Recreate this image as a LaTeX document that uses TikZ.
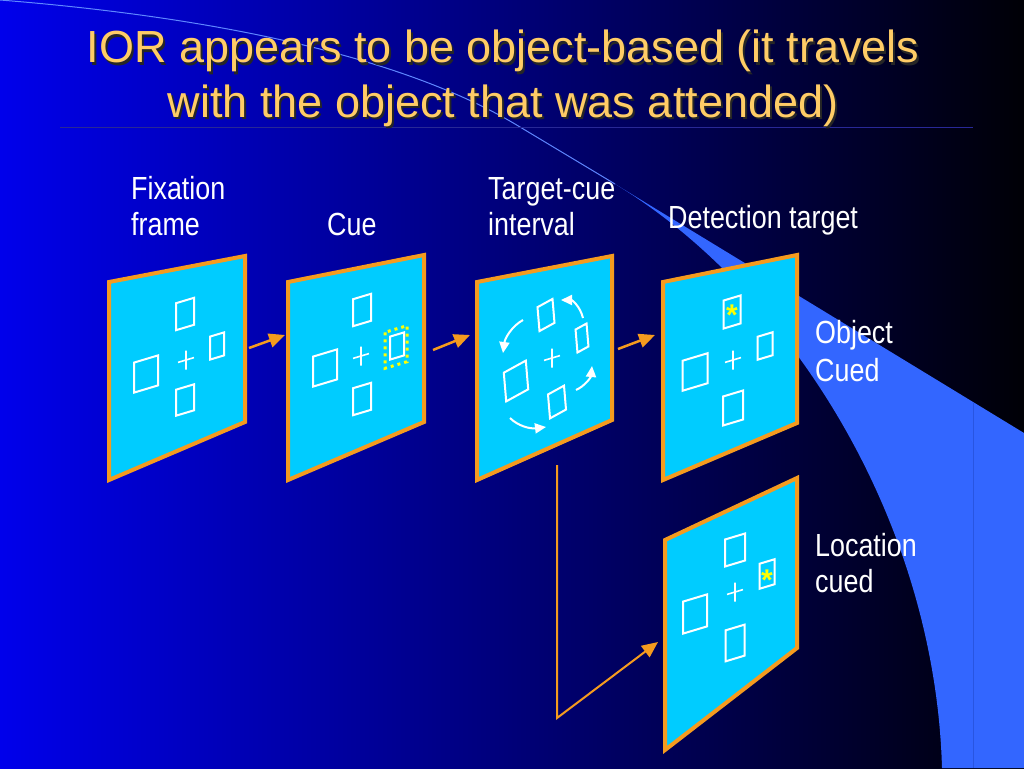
\documentclass[tikz,border=0pt]{standalone}
\usepackage{fontspec}
\setmainfont{Liberation Sans}
\newfontfamily\narrowfont[FakeStretch=0.84]{Liberation Sans}
\usetikzlibrary{arrows.meta}

\definecolor{bgleft}{RGB}{0,0,235}
\definecolor{bgmid}{RGB}{0,0,140}
\definecolor{bgright}{RGB}{0,0,6}
\definecolor{swoosh}{RGB}{51,102,255}
\definecolor{swline}{RGB}{95,135,255}
\definecolor{swedge}{RGB}{40,85,225}
\definecolor{rulecol}{RGB}{40,40,150}
\definecolor{titlecol}{RGB}{255,204,102}
\definecolor{panelfill}{RGB}{0,204,255}
\definecolor{panelrim}{RGB}{245,155,30}
\definecolor{cueyellow}{RGB}{255,255,0}

% 屏幕上的小方框：[变形]{中心x}{中心y}{宽}{高}
\newcommand{\kuang}[5][yslant=0.3]{\draw[box,shift={(#2,#3)},#1] (-#4/2,-#5/2) rectangle (#4/2,#5/2);}
% 注视点十字
\newcommand{\shizi}[2]{\draw[box,line width=1.6pt,shift={(#1,#2)},yslant=0.3] (-8,0) -- (8,0) (0,-9.5) -- (0,9.5);}

\begin{document}
\begin{tikzpicture}[x=1pt, y=-1pt,
  panel/.style={fill=panelfill, draw=panelrim, line width=4pt, line join=miter},
  box/.style={draw=white, line width=2pt},
  lbl/.style={text=white, font=\narrowfont\fontsize{32}{32}\selectfont, inner sep=0pt, anchor=base west},
  titletext/.style={font=\fontsize{45}{45}\selectfont, inner sep=0pt, anchor=base},
  xing/.style={text=cueyellow, font=\fontsize{30}{30}\selectfont\bfseries, inner sep=0pt, anchor=base},
  jiantou/.style={draw=panelrim, line width=2.5pt, -{Triangle[length=16pt,width=14pt]}},
  xuanzhuan/.style={draw=white, line width=2pt, -{Triangle[length=11pt,width=10pt]}}]

  % 背景：从蓝到黑的渐变
  \useasboundingbox (0,0) rectangle (1024,768);
  \shade[left color=bgleft, middle color=bgmid, right color=bgright] (0,0) rectangle (1024,768);

  % 右侧的浅蓝色弧带
  \fill[swoosh] (615,184) -- (1024,433) -- (1024,768) -- (942,768)
      .. controls (935,520) and (790,290) .. (615,184) -- cycle;
  \draw[swedge, line width=1pt] (973,402) -- (973,768);
  \draw[swline, line width=1pt] (0,0) .. controls (250,20) and (420,66) .. (520,127) -- (615,184);
  \draw[rulecol, line width=0.8pt] (60,127) -- (973,127);

  % 标题（带阴影）
  \node[titletext, text=black!85] (title1sh) at (505,65) {IOR appears to be object-based (it travels};
  \node[titletext, text=black!85] (title2sh) at (505,119) {with the object that was attended)};
  \node[titletext, text=titlecol] (title1) at (503,63) {IOR appears to be object-based (it travels};
  \node[titletext, text=titlecol] (title2) at (503,117) {with the object that was attended)};

  % 各阶段说明
  \node[lbl] (fix1) at (131,199) {Fixation};
  \node[lbl] (fix2) at (131,235) {frame};
  \node[lbl] (cue) at (327,235) {Cue};
  \node[lbl] (tci1) at (488,199) {Target-cue};
  \node[lbl] (tci2) at (488,235) {interval};
  \node[lbl] (det) at (668,228) {Detection target};
  \node[lbl] (obj1) at (815,343) {Object};
  \node[lbl] (obj2) at (815,381) {Cued};
  \node[lbl] (loc1) at (815,556) {Location};
  \node[lbl] (loc2) at (815,592) {cued};

  % 屏幕 1：注视画面
  \draw[panel] (109,282) -- (245,256) -- (245,422) -- (109,480) -- cycle;
  \kuang{185}{314}{18}{27}
  \kuang{217}{346}{14}{23}
  \kuang{146}{374}{24}{30}
  \kuang{185}{400}{18}{26}
  \shizi{186}{360}

  % 屏幕 2：线索（右侧方框被黄色点线框住）
  \draw[panel] (288,282) -- (424,255) -- (424,422) -- (288,480) -- cycle;
  \kuang{362}{310}{18}{27}
  \kuang{397}{346}{14}{23}
  \kuang{325}{368}{24}{30}
  \kuang{362}{399}{18}{27}
  \shizi{361}{356}
  \draw[cueyellow, line width=3pt, dash pattern=on 3pt off 4pt, shift={(396,347)}, yslant=0.3]
      (-11,-18) rectangle (11,18);

  % 屏幕 3：方框绕中心旋转
  \draw[panel] (477,282) -- (612,256) -- (612,420) -- (477,480) -- cycle;
  \kuang[yslant=0.55,xslant=-0.08]{546}{315}{15}{25}
  \kuang[yslant=0.55,xslant=-0.08]{582}{338}{11}{24}
  \kuang[yslant=0.55,xslant=-0.08]{516}{381}{22}{30}
  \kuang[yslant=0.55,xslant=-0.08]{557}{402}{16}{25}
  \shizi{552}{358}
  \draw[xuanzhuan] (583,318) .. controls (580,306) and (572,300) .. (561,300);
  \draw[xuanzhuan] (523,320) .. controls (512,326) and (505,338) .. (503,353);
  \draw[xuanzhuan] (510,418) .. controls (518,426) and (530,429) .. (546,427);
  \draw[xuanzhuan] (576,390) .. controls (585,386) and (591,377) .. (592,366);

  % 屏幕 4：目标出现在被提示的物体上
  \draw[panel] (663,282) -- (797,255) -- (797,423) -- (663,480) -- cycle;
  \kuang{732}{312}{17}{28}
  \kuang{765}{346}{15}{23}
  \kuang{695}{372}{25}{30}
  \kuang{733}{408}{20}{29}
  \shizi{733}{360}
  \node[xing] (star1) at (732,325) {*};

  % 屏幕 5：目标出现在被提示的位置上
  \draw[panel] (665,540) -- (797,478) -- (797,648) -- (665,750) -- cycle;
  \kuang{735}{550}{20}{27}
  \kuang{767}{574}{15}{25}
  \kuang{695}{614}{24}{32}
  \kuang{735}{643}{19}{31}
  \shizi{735}{592}
  \node[xing] (star2) at (767,590) {*};

  % 屏幕之间的箭头
  \coordinate (a1s) at (249,348);
  \coordinate (a1e) at (285,335);
  \coordinate (a2s) at (433,350);
  \coordinate (a2e) at (470,335);
  \coordinate (a3s) at (618,349);
  \coordinate (a3e) at (655,335);
  \coordinate (dtop) at (557,465);
  \coordinate (dbot) at (557,718);
  \coordinate (a4e) at (658,642);
  \draw[jiantou] (a1s) -- (a1e);
  \draw[jiantou] (a2s) -- (a2e);
  \draw[jiantou] (a3s) -- (a3e);
  \draw[jiantou, line width=2pt] (dtop) -- (dbot) -- (a4e);
\end{tikzpicture}
\end{document}
